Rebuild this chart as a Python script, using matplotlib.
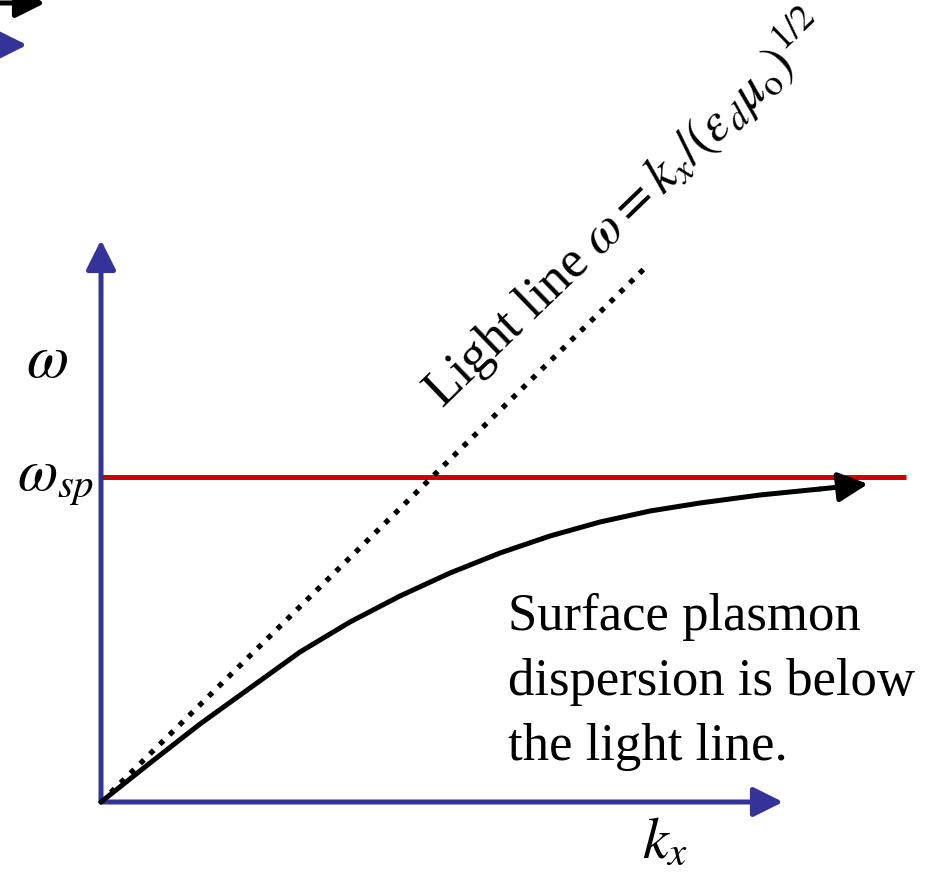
import matplotlib.pyplot as plt

plt.rcParams['font.family'] = ['Liberation Serif', 'DejaVu Serif']
plt.rcParams['mathtext.fontset'] = 'stix'

# schematic values (k_x, omega in arbitrary units)
k_axis_max = 6.82
w_axis_max = 5.62
w_sp = 3.25
k_sp_max = 8.05
light_k = [0.0, 5.47]
light_w = [0.0, 5.37]
sp_k = [0.0, 0.49, 0.99, 1.49, 1.99, 2.49, 2.99, 3.49, 3.99, 4.49, 4.99, 5.49, 5.99, 6.59, 7.19, 7.67]
sp_w = [0.0, 0.39, 0.78, 1.14, 1.50, 1.80, 2.06, 2.29, 2.49, 2.66, 2.80, 2.91, 2.99, 3.07, 3.13, 3.18]
note_lines = ['Surface plasmon', 'dispersion is below', 'the light line.']

blue = '#333399'
red = '#CC0000'

fig = plt.figure(figsize=(9.26, 8.76), dpi=100)
ax = fig.add_axes([0, 0, 1, 1])
ax.set_xlim(-1.01, 8.25)
ax.set_ylim(-0.74, 8.02)
ax.axis('off')


def arrow(x0, y0, x1, y1, color, lw=3.6, hl=0.9, hw=0.45):
    ax.annotate('', xy=(x1, y1), xytext=(x0, y0),
                arrowprops=dict(arrowstyle=f'-|>,head_length={hl},head_width={hw}',
                                color=color, lw=lw, shrinkA=0, shrinkB=0,
                                mutation_scale=20))


# axes
arrow(0, 0, k_axis_max, 0, blue)
arrow(0, 0, 0, w_axis_max, blue)

# surface plasmon frequency
ax.plot([0, k_sp_max], [w_sp, w_sp], color=red, lw=3.6, solid_capstyle='butt', zorder=1)

# light line
ax.plot(light_k, light_w, color='black', lw=3.8, linestyle=(0, (1, 1.6)), zorder=2)

# dispersion curve with arrow
ax.plot(sp_k[:-1], sp_w[:-1], color='black', lw=3.6, solid_capstyle='round',
        solid_joinstyle='round', zorder=3)
arrow(sp_k[-2], sp_w[-2], sp_k[-1], sp_w[-1], 'black')

# arrows cut at the top-left corner
arrow(-1.06, 7.99, -0.56, 7.99, 'black')
arrow(-1.06, 7.57, -0.74, 7.57, blue)

# labels
ax.text(-0.54, 4.40, r'$\omega$', fontsize=44, ha='center', va='center')
ax.text(-0.84, 3.12, r'$\omega_{sp}$', fontsize=42, ha='left', va='baseline')
ax.text(5.41, -0.56, r'$k_x$', fontsize=42, ha='left', va='baseline')
ax.text(3.42, 3.92, r'Light line $\omega = k_x/(\varepsilon_d\mu_\mathrm{o})^{1/2}$',
        fontsize=38, rotation=44, rotation_mode='anchor', ha='left', va='baseline')

for i, line in enumerate(note_lines):
    ax.text(4.07, 1.72 - 0.65 * i, line, fontsize=38, ha='left', va='baseline')

fig.savefig('out.png', dpi=100)
